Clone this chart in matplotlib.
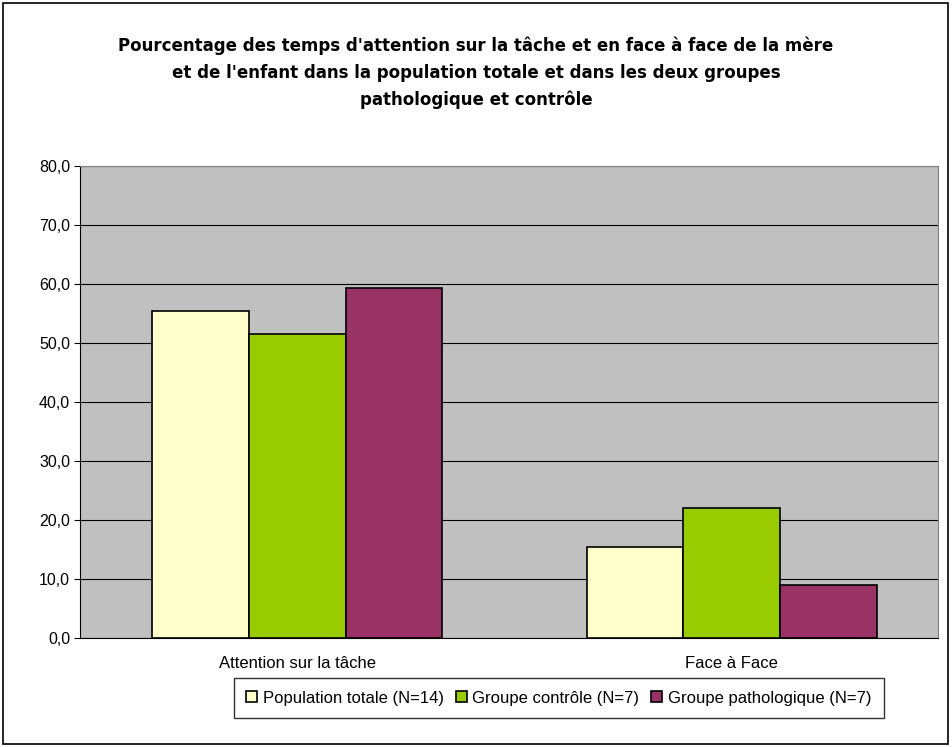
import matplotlib.pyplot as plt
import numpy as np
from matplotlib.patches import Rectangle

plt.rcParams['font.family'] = ['Liberation Sans', 'DejaVu Sans']

categories = ['Attention sur la tâche', 'Face à Face']
series_names = ['Population totale (N=14)', 'Groupe contrôle (N=7)', 'Groupe pathologique (N=7)']
pop_totale = [55.4, 15.4]
groupe_controle = [51.5, 22.1]
groupe_patho = [59.4, 9.0]
yticks = [0, 10, 20, 30, 40, 50, 60, 70, 80]

colors = ['#FFFFCC', '#99CC00', '#993366']
title = ("Pourcentage des temps d'attention sur la tâche et en face à face de la mère\n"
         "et de l'enfant dans la population totale et dans les deux groupes\n"
         "pathologique et contrôle")

fig = plt.figure(figsize=(9.52, 7.47), dpi=100)
# cadre autour de la figure
fig.patches.append(Rectangle((0.003, 0.004), 0.993, 0.992, transform=fig.transFigure,
                             fill=False, edgecolor='black', linewidth=1.2))

ax = fig.add_axes([0.084, 0.1459, 0.9013, 0.6319])
ax.set_facecolor('#C0C0C0')

x = np.arange(len(categories))
width = 0.2226
for i, (vals, name) in enumerate(zip([pop_totale, groupe_controle, groupe_patho], series_names)):
    ax.bar(x + (i - 1) * width, vals, width, color=colors[i], edgecolor='black',
           linewidth=1.2, label=name, zorder=3)

ax.set_xlim(-0.5, 1.475)
ax.set_ylim(0, 80)
ax.set_yticks(yticks)
ax.set_yticklabels([f'{v:.1f}'.replace('.', ',') for v in yticks], fontsize=11.5)
ax.yaxis.grid(True, color='black', linewidth=0.8, zorder=1)
ax.set_xticks(x)
ax.set_xticklabels(categories, fontsize=12)
ax.tick_params(axis='x', length=0, pad=13)
ax.tick_params(axis='y', length=4, direction='out', pad=3)
for side in ['top', 'right']:
    ax.spines[side].set_color('#808080')
ax.spines['left'].set_color('black')
ax.spines['bottom'].set_color('black')

fig.text(0.5, 0.951, title, ha='center', va='top', fontsize=12, fontweight='bold',
         family='DejaVu Sans', linespacing=1.6)

leg = fig.legend(loc='center', bbox_to_anchor=(0.587, 0.0655), ncol=3, fontsize=12,
                 frameon=True, fancybox=False, edgecolor='black', handlelength=0.65,
                 handleheight=0.65, handletextpad=0.35, columnspacing=0.7,
                 borderpad=0.75)
leg.get_frame().set_linewidth(1.0)

fig.savefig('out.png', dpi=100)
